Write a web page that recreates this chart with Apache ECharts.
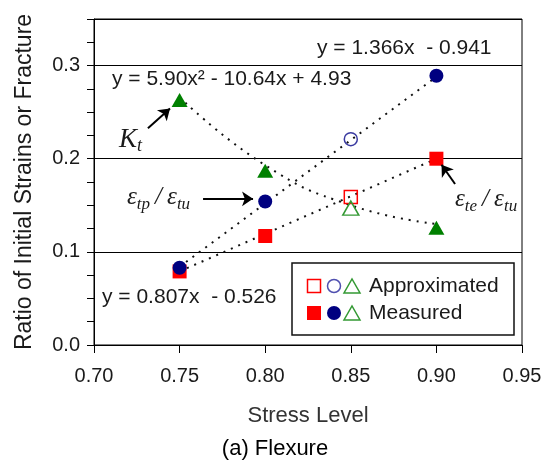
<!DOCTYPE html>
<html>
<head>
<meta charset="utf-8">
<script src="https://cdn.jsdelivr.net/npm/echarts@6/dist/echarts.min.js"></script>
<style>
  html, body { margin: 0; padding: 0; background: #fff; }
  #chart { width: 545px; height: 463px; }
</style>
</head>
<body>
<div id="chart"></div>
<script>
// stress levels along the x axis
var stressLevels = [0.75, 0.80, 0.85, 0.90];

// Kt (green triangles)
var ktMeasured = [0.263, 0.187, null, 0.126];
var ktApprox = [null, null, 0.147, null];
// e_tp / e_tu (navy circles)
var tpMeasured = [0.083, 0.154, null, 0.289];
var tpApprox = [null, null, 0.221, null];
// e_te / e_tu (red squares)
var teMeasured = [0.079, 0.117, null, 0.200];
var teApprox = [null, null, 0.159, null];

// dotted trend lines
var ktTrend = [0.266, 0.193, 0.150, 0.130];
var tpTrend = [0.084, null, null, 0.288];
var teTrend = [0.079, null, null, 0.200];

var xTicks = { min: 0.70, max: 0.95, step: 0.05 };
var yTicks = { min: 0, max: 0.35, step: 0.1, minor: 0.025 };

// annotation arrows [from, to] in data units
var arrows = [
    [[0.7315, 0.2327], [0.7444, 0.2540]],
    [[0.7637, 0.1569], [0.7929, 0.1569]],
    [[0.9109, 0.1729], [0.9030, 0.1935]]
];

function pairs(values) {
    var out = [];
    stressLevels.forEach(function (x, i) {
        if (values[i] != null) out.push([x, values[i]]);
    });
    return out;
}

var sans = '"Liberation Sans", Arial, sans-serif';
var serif = '"Liberation Serif", "Times New Roman", serif';
var txt = '#1a1a1a';

var trendStyle = { color: '#111', width: 2, type: [2, 6] };

function trendSeries(values, smooth) {
    return {
        type: 'line',
        data: pairs(values),
        symbol: 'none',
        smooth: smooth ? 0.5 : false,
        connectNulls: true,
        lineStyle: trendStyle,
        silent: true,
        z: 1
    };
}

function markerSeries(values, symbol, size, color, hollow) {
    return {
        type: 'scatter',
        data: pairs(values),
        symbol: symbol,
        symbolSize: size,
        itemStyle: hollow
            ? { color: 'rgba(255,255,255,0)', borderColor: color, borderWidth: 1.5, opacity: 1 }
            : { color: color, opacity: 1 },
        silent: true,
        z: 3
    };
}

// rich styles for the italic ratio labels
var mathRich = {
    m: { fontFamily: serif, fontStyle: 'italic', fontSize: 25, lineHeight: 28, verticalAlign: 'top' },
    s: { fontFamily: serif, fontStyle: 'italic', fontSize: 17, lineHeight: 28, verticalAlign: 'bottom' }
};

var chart = echarts.init(document.getElementById('chart'), null, { renderer: 'canvas' });

var tpLine = trendSeries(tpTrend, false);
tpLine.markLine = {
    silent: true,
    animation: false,
    symbol: ['none', 'arrow'],
    symbolSize: 11,
    label: { show: false },
    lineStyle: { color: '#000', width: 2, type: 'solid' },
    data: arrows.map(function (a) {
        return [{ coord: a[0] }, { coord: a[1] }];
    })
};

var option = {
    animation: false,
    grid: {
        left: 94, right: 23, top: 19, bottom: 118,
        show: true, borderColor: '#000', borderWidth: 1,
        backgroundColor: 'rgba(0,0,0,0)'
    },
    xAxis: {
        type: 'value',
        min: xTicks.min, max: xTicks.max, interval: xTicks.step,
        name: 'Stress Level',
        nameLocation: 'middle',
        nameGap: 60,
        nameTextStyle: { fontFamily: sans, fontSize: 22, color: '#333' },
        axisLine: { lineStyle: { color: '#000', width: 1 } },
        axisTick: { show: true, inside: false, length: 8, lineStyle: { color: '#000' } },
        splitLine: { show: false },
        axisLabel: {
            margin: 21, fontFamily: sans, fontSize: 20, color: txt,
            formatter: function (v) { return v.toFixed(2); }
        }
    },
    yAxis: [{
        type: 'value',
        min: yTicks.min, max: yTicks.max, interval: yTicks.step,
        name: 'Ratio of Initial Strains or Fracture',
        nameLocation: 'middle',
        nameGap: 58,
        nameTextStyle: { fontFamily: sans, fontSize: 23, color: txt },
        axisLine: { show: true, lineStyle: { color: '#000', width: 1 } },
        axisTick: { show: false },
        splitLine: { show: true, lineStyle: { color: '#000', width: 1 } },
        axisLabel: {
            margin: 14, fontFamily: sans, fontSize: 20, color: txt,
            showMaxLabel: false,
            formatter: function (v) { return v.toFixed(1); }
        }
    }, {
        type: 'value',
        position: 'left',
        offset: 0,
        min: yTicks.min, max: yTicks.max, interval: yTicks.minor,
        axisLine: { show: false },
        axisTick: { show: true, inside: false, length: 7, lineStyle: { color: '#000' } },
        splitLine: { show: false },
        axisLabel: { show: false }
    }],
    series: [
        trendSeries(ktTrend, true),
        tpLine,
        trendSeries(teTrend, false),
        markerSeries(teMeasured, 'rect', 14, '#ff0000', false),
        markerSeries(teApprox, 'rect', 13, '#ff0000', true),
        markerSeries(ktMeasured, 'triangle', [16, 14], '#008000', false),
        markerSeries(ktApprox, 'triangle', [16, 14], '#339933', true),
        markerSeries(tpMeasured, 'circle', 14, '#000080', false),
        markerSeries(tpApprox, 'circle', 13, '#3a3aa0', true)
    ],
    graphic: [
        // trend equations
        { type: 'text', x: 317, y: 48, style: { text: 'y = 1.366x  - 0.941', font: '21px ' + sans, fill: txt, textVerticalAlign: 'middle' } },
        { type: 'text', x: 112, y: 79, style: { text: 'y = 5.90x² - 10.64x + 4.93', font: '21px ' + sans, fill: txt, textVerticalAlign: 'middle' } },
        { type: 'text', x: 102, y: 297, style: { text: 'y = 0.807x  - 0.526', font: '21px ' + sans, fill: txt, textVerticalAlign: 'middle' } },
        // symbol labels
        {
            type: 'text', x: 119, y: 126,
            style: {
                text: '{m|K}{s|t}', fill: txt,
                rich: {
                    m: { fontFamily: serif, fontStyle: 'italic', fontSize: 27, lineHeight: 29, verticalAlign: 'top' },
                    s: { fontFamily: serif, fontStyle: 'italic', fontSize: 18, lineHeight: 29, verticalAlign: 'bottom' }
                }
            }
        },
        { type: 'text', x: 127, y: 185, style: { text: '{m|ε}{s|tp}{m|\u2009/\u2009ε}{s|tu}', fill: txt, rich: mathRich } },
        { type: 'text', x: 455, y: 187, style: { text: '{m|ε}{s|te}{m|\u2009/\u2009ε}{s|tu}', fill: txt, rich: mathRich } },
        // legend box
        {
            type: 'group', x: 292, y: 263,
            children: [
                { type: 'rect', shape: { x: 0, y: 0, width: 222, height: 72 }, style: { fill: '#fff', stroke: '#111', lineWidth: 1.5 } },
                { type: 'rect', shape: { x: 15.5, y: 16.5, width: 13, height: 13 }, style: { fill: 'none', stroke: '#ff0000', lineWidth: 1.5 } },
                { type: 'circle', shape: { cx: 42, cy: 23, r: 6.5 }, style: { fill: 'none', stroke: '#5050b0', lineWidth: 1.5 } },
                { type: 'polygon', shape: { points: [[52, 30], [68, 30], [60, 16]] }, style: { fill: 'none', stroke: '#339933', lineWidth: 1.5 } },
                { type: 'text', x: 77, y: 23, style: { text: 'Approximated', font: '21px ' + sans, fill: txt, textVerticalAlign: 'middle' } },
                { type: 'rect', shape: { x: 15, y: 43, width: 14, height: 14 }, style: { fill: '#ff0000' } },
                { type: 'circle', shape: { cx: 42, cy: 50, r: 7 }, style: { fill: '#000080' } },
                { type: 'polygon', shape: { points: [[52, 57], [68, 57], [60, 43]] }, style: { fill: 'none', stroke: '#339933', lineWidth: 1.5 } },
                { type: 'text', x: 77, y: 50, style: { text: 'Measured', font: '21px ' + sans, fill: txt, textVerticalAlign: 'middle' } }
            ]
        },
        // caption
        { type: 'text', x: 275, y: 449, style: { text: '(a) Flexure', font: '22px ' + sans, fill: '#000', textAlign: 'center', textVerticalAlign: 'middle' } }
    ]
};

chart.setOption(option);
</script>
</body>
</html>
